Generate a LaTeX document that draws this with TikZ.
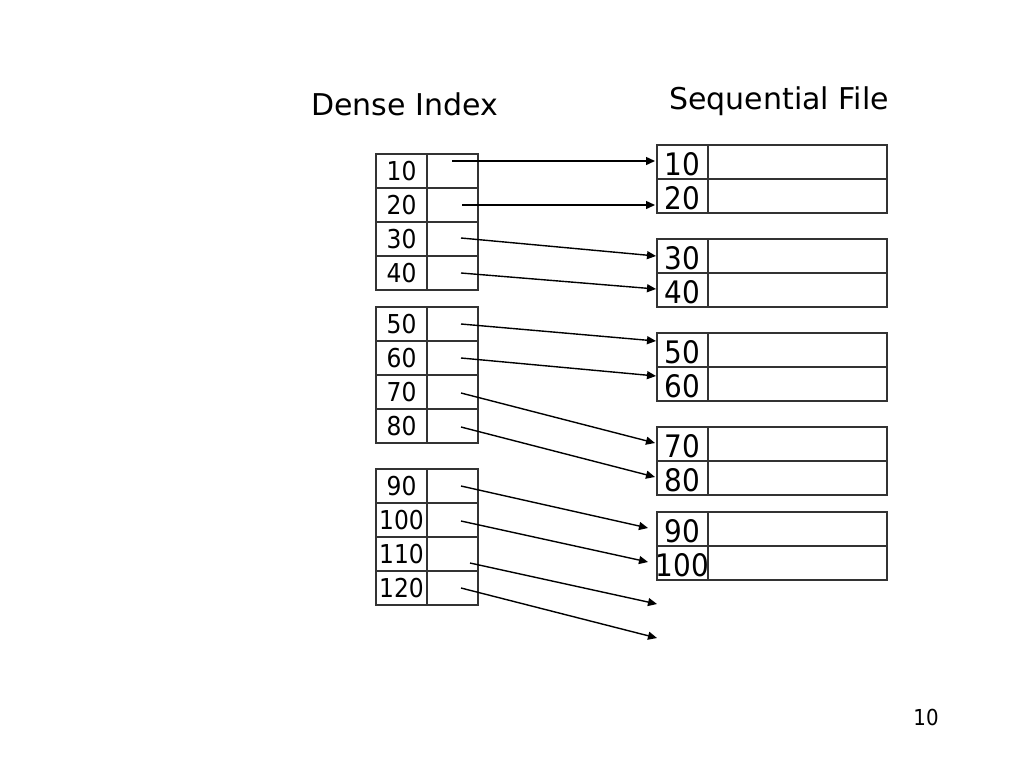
\documentclass[tikz,border=0pt]{standalone}
\usepackage{fontspec}
\setmainfont{DejaVu Sans}
\newfontfamily\numfont{DejaVu Sans}[FakeStretch=0.9]
\usetikzlibrary{arrows.meta,calc}
\begin{document}
\begin{tikzpicture}[x=1pt,y=-1pt,
  cell/.style={draw=black!80, line width=1.2pt, inner sep=0pt, outer sep=0pt, anchor=north west, minimum height=34pt},
  idxkey/.style={cell, minimum width=51pt, font=\numfont\fontsize{26pt}{26pt}\selectfont},
  idxptr/.style={cell, minimum width=51pt},
  seqkey/.style={cell, minimum width=51pt, text height=26pt, text depth=0pt, font=\numfont\fontsize{31pt}{31pt}\selectfont},
  seqrec/.style={cell, minimum width=179pt},
  title/.style={anchor=base west, inner sep=0pt, font=\fontsize{30pt}{30pt}\selectfont},
  ptr/.style={line width=1.4pt, -{Triangle[length=9pt,width=8pt]}},
]
\useasboundingbox[fill=white] (0,0) rectangle (1024,768);

\node[title] (dense) at (311,115) {Dense Index};
\node[title] (seqf) at (669,109) {Sequential File};
\node[anchor=base, inner sep=0pt, font=\numfont\fontsize{22pt}{22pt}\selectfont] (page) at (926,725) {10};

% dense index
\node[idxkey] (ik1) at (376,154) {10};  \node[idxptr] (ip1) at (427,154) {};
\node[idxkey] (ik2) at (376,188) {20};  \node[idxptr] (ip2) at (427,188) {};
\node[idxkey] (ik3) at (376,222) {30};  \node[idxptr] (ip3) at (427,222) {};
\node[idxkey] (ik4) at (376,256) {40};  \node[idxptr] (ip4) at (427,256) {};
\node[idxkey] (ik5) at (376,307) {50};  \node[idxptr] (ip5) at (427,307) {};
\node[idxkey] (ik6) at (376,341) {60};  \node[idxptr] (ip6) at (427,341) {};
\node[idxkey] (ik7) at (376,375) {70};  \node[idxptr] (ip7) at (427,375) {};
\node[idxkey] (ik8) at (376,409) {80};  \node[idxptr] (ip8) at (427,409) {};
\node[idxkey] (ik9) at (376,469) {90};  \node[idxptr] (ip9) at (427,469) {};
\node[idxkey] (ik10) at (376,503) {\makebox[0pt]{100}}; \node[idxptr] (ip10) at (427,503) {};
\node[idxkey] (ik11) at (376,537) {\makebox[0pt]{110}}; \node[idxptr] (ip11) at (427,537) {};
\node[idxkey] (ik12) at (376,571) {\makebox[0pt]{120}}; \node[idxptr] (ip12) at (427,571) {};

% sequential file
\node[seqkey] (sk1) at (657,145) {10};  \node[seqrec] (sr1) at (708,145) {};
\node[seqkey] (sk2) at (657,179) {20};  \node[seqrec] (sr2) at (708,179) {};
\node[seqkey] (sk3) at (657,239) {30};  \node[seqrec] (sr3) at (708,239) {};
\node[seqkey] (sk4) at (657,273) {40};  \node[seqrec] (sr4) at (708,273) {};
\node[seqkey] (sk5) at (657,333) {50};  \node[seqrec] (sr5) at (708,333) {};
\node[seqkey] (sk6) at (657,367) {60};  \node[seqrec] (sr6) at (708,367) {};
\node[seqkey] (sk7) at (657,427) {70};  \node[seqrec] (sr7) at (708,427) {};
\node[seqkey] (sk8) at (657,461) {80};  \node[seqrec] (sr8) at (708,461) {};
\node[seqkey] (sk9) at (657,512) {90};  \node[seqrec] (sr9) at (708,512) {};
\node[seqkey] (sk10) at (657,546) {\makebox[0pt]{100}}; \node[seqrec] (sr10) at (708,546) {};

\coordinate (free11) at (657,604);
\coordinate (free12) at (657,638);

% pointers
\draw[ptr] ($(ip1.north west)+(25,7)$)  -- ($(sk1.north west)+(-2,16)$);
\draw[ptr] ($(ip2.north west)+(35,17)$) -- ($(sk2.north west)+(-2,26)$);
\draw[ptr] ($(ip3.north west)+(34,16)$) -- ($(sk3.north west)+(-1,17)$);
\draw[ptr] ($(ip4.north west)+(34,17)$) -- ($(sk4.north west)+(-1,16)$);
\draw[ptr] ($(ip5.north west)+(34,17)$) -- ($(sk5.north west)+(-1,8)$);
\draw[ptr] ($(ip6.north west)+(34,17)$) -- ($(sk6.north west)+(-1,9)$);
\draw[ptr] ($(ip7.north west)+(34,18)$) -- ($(sk7.north west)+(-2,16)$);
\draw[ptr] ($(ip8.north west)+(34,18)$) -- ($(sk8.north west)+(-2,16)$);
\draw[ptr] ($(ip9.north west)+(34,17)$) -- ($(sk9.north west)+(-9,16)$);
\draw[ptr] ($(ip10.north west)+(34,18)$) -- ($(sk10.north west)+(-9,16)$);
\draw[ptr] ($(ip11.north west)+(43,26)$) -- (free11);
\draw[ptr] ($(ip12.north west)+(34,17)$) -- (free12);
\end{tikzpicture}
\end{document}
